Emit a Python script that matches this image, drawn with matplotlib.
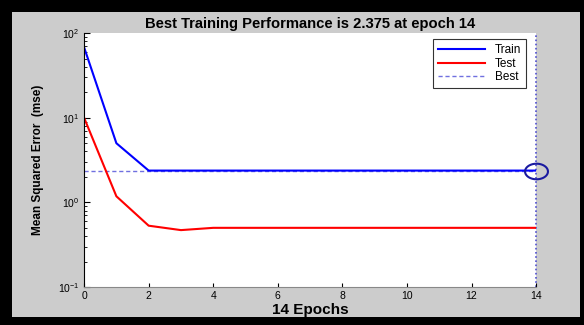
import matplotlib
matplotlib.use("Agg")
import numpy as np
import matplotlib.pyplot as plt
from matplotlib.patches import Rectangle
from matplotlib.path import Path

epochs = [0, 1, 2, 3, 4, 5, 6, 7, 8, 9, 10, 11, 12, 13, 14]
train_mse = [68, 5.0, 2.375, 2.375, 2.375, 2.375, 2.375, 2.375, 2.375, 2.375, 2.375, 2.375, 2.375, 2.375, 2.375]
test_mse = [10, 1.18, 0.53, 0.47, 0.50, 0.50, 0.50, 0.50, 0.50, 0.50, 0.50, 0.50, 0.50, 0.50, 0.50]
best_epoch = 14
best_value = 2.375
x_ticks = [0, 2, 4, 6, 8, 10, 12, 14]

plt.rcParams['font.family'] = ['Liberation Sans', 'DejaVu Sans']

fig = plt.figure(figsize=(5.84, 3.25), dpi=100)
fig.patch.set_facecolor('black')
fig.patches.append(Rectangle((0.0205, 0.0246), 0.9725, 0.9385, transform=fig.transFigure,
                             facecolor='#cccccc', edgecolor='none', zorder=-10))

ax = fig.add_axes([0.144, 0.117, 0.774, 0.781])
ax.set_zorder(1)
ax.set_facecolor('white')
ax.set_yscale('log')
ax.plot(epochs, train_mse, color='#0000ff', lw=1.5, label='Train')
ax.plot(epochs, test_mse, color='#ff0000', lw=1.5, label='Test')
ax.axhline(best_value, color='#7070e0', lw=1, ls=(0, (3, 2)), label='Best', zorder=1)
ax.axvline(best_epoch, color='#5050d0', lw=1.2, ls=(0, (1, 1.5)), zorder=1, clip_on=False)

t = np.linspace(0, 2 * np.pi, 60)
ellipse = Path(np.column_stack([np.cos(t) * 1.0, np.sin(t) * 0.68]), closed=True)
ax.plot([best_epoch], [best_value], marker=ellipse, ms=16.5, mfc='none', mec='#1a1aa0', mew=1.5,
        clip_on=False, zorder=5)

ax.set_xlim(0, 14)
ax.set_ylim(0.1, 100)
ax.set_xticks(x_ticks)
ax.tick_params(axis='both', which='both', direction='in', labelsize=7.5, colors='black')
ax.tick_params(axis='y', which='major', length=4)
ax.tick_params(axis='y', which='minor', length=2)
ax.tick_params(axis='x', length=3, pad=3)
for s in ['top', 'right']:
    ax.spines[s].set_visible(False)
ax.spines['left'].set_color('black')
ax.spines['bottom'].set_color('#888888')

ax.set_title('Best Training Performance is 2.375 at epoch 14', fontsize=10.6, fontweight='bold', pad=4)
ax.set_xlabel('14 Epochs', fontsize=11, fontweight='bold', labelpad=1)
ax.set_ylabel('Mean Squared Error  (mse)', fontsize=8.5, fontweight='bold', labelpad=10)

leg = ax.legend(loc='upper right', fontsize=8.5, frameon=True, fancybox=False,
                edgecolor='black', handlelength=4.0, borderaxespad=0.3, labelspacing=0.15,
                bbox_to_anchor=(0.985, 0.99))
leg.get_frame().set_linewidth(0.8)

fig.savefig('out.png', dpi=100, facecolor=fig.get_facecolor())
